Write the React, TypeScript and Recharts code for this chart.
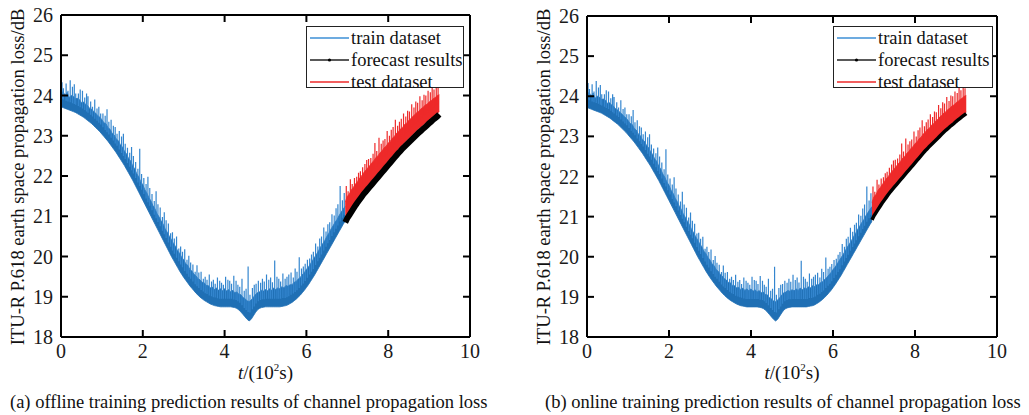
import React from 'react';
import { ComposedChart, Area, Line, XAxis, YAxis } from 'recharts';

const STEP = 0.05;
const TRAIN_START = 0;
const TEST_START = 6.95;
const X_TICKS = [0, 2, 4, 6, 8, 10];
const Y_TICKS = [18, 19, 20, 21, 22, 23, 24, 25, 26];

// lower envelope of the train dataset band (t = 0 .. 6.95)
const TRAIN_LOW = [
  23.72, 23.70, 23.68, 23.66, 23.64, 23.62, 23.60, 23.58, 23.55, 23.52,
  23.49, 23.46, 23.42, 23.38, 23.34, 23.30, 23.25, 23.20, 23.15, 23.10,
  23.04, 22.98, 22.92, 22.86, 22.79, 22.72, 22.65, 22.58, 22.50, 22.42,
  22.34, 22.26, 22.17, 22.08, 21.99, 21.90, 21.80, 21.70, 21.60, 21.50,
  21.40, 21.30, 21.20, 21.10, 21.00, 20.90, 20.80, 20.70, 20.60, 20.50,
  20.40, 20.30, 20.20, 20.10, 20.00, 19.91, 19.82, 19.73, 19.64, 19.56,
  19.48, 19.41, 19.34, 19.27, 19.21, 19.15, 19.09, 19.04, 18.99, 18.95,
  18.91, 18.88, 18.85, 18.82, 18.80, 18.78, 18.77, 18.76, 18.75, 18.75,
  18.75, 18.75, 18.75, 18.75, 18.74, 18.73, 18.71, 18.67, 18.62, 18.56,
  18.50, 18.44, 18.40, 18.44, 18.52, 18.60, 18.67, 18.71, 18.73, 18.74,
  18.75, 18.75, 18.75, 18.75, 18.75, 18.75, 18.75, 18.75, 18.76, 18.77,
  18.78, 18.80, 18.83, 18.86, 18.90, 18.94, 18.99, 19.04, 19.10, 19.16,
  19.23, 19.30, 19.38, 19.46, 19.54, 19.63, 19.72, 19.81, 19.90, 19.99,
  20.08, 20.17, 20.26, 20.35, 20.44, 20.53, 20.62, 20.71, 20.80, 20.88,
];
// upper dense edge of the train dataset band
const TRAIN_HIGH = [
  24.02, 24.10, 24.00, 24.08, 23.95, 24.00, 23.98, 23.92, 23.93, 23.90,
  23.82, 23.84, 23.78, 23.75, 23.68, 23.66, 23.60, 23.56, 23.50, 23.46,
  23.40, 23.32, 23.30, 23.20, 23.16, 23.06, 23.02, 22.92, 22.88, 22.78,
  22.72, 22.62, 22.55, 22.44, 22.38, 22.26, 22.18, 22.06, 21.98, 21.86,
  21.78, 21.66, 21.58, 21.46, 21.38, 21.26, 21.18, 21.06, 20.98, 20.88,
  20.80, 20.68, 20.60, 20.50, 20.42, 20.32, 20.25, 20.14, 20.08, 19.98,
  19.92, 19.82, 19.78, 19.68, 19.64, 19.56, 19.52, 19.45, 19.42, 19.36,
  19.35, 19.28, 19.28, 19.22, 19.24, 19.18, 19.22, 19.16, 19.20, 19.15,
  19.20, 19.14, 19.18, 19.12, 19.16, 19.10, 19.12, 19.06, 19.05, 18.98,
  18.95, 18.90, 18.88, 18.92, 18.98, 19.05, 19.10, 19.12, 19.16, 19.14,
  19.18, 19.15, 19.20, 19.16, 19.22, 19.18, 19.22, 19.20, 19.25, 19.22,
  19.28, 19.26, 19.30, 19.30, 19.36, 19.38, 19.44, 19.48, 19.55, 19.60,
  19.68, 19.74, 19.82, 19.90, 19.98, 20.06, 20.15, 20.24, 20.32, 20.40,
  20.50, 20.58, 20.68, 20.76, 20.85, 20.92, 21.02, 21.10, 21.18, 21.25,
];
// noise spikes of the train dataset (time, foot, tip)
const TRAIN_SPIKE_T = [
  0.025, 0.125, 0.225, 0.325, 0.425, 0.525, 0.625, 0.725, 0.825, 0.925,
  1.025, 1.125, 1.225, 1.325, 1.425, 1.525, 1.625, 1.725, 1.825, 1.925,
  2.025, 2.125, 2.225, 2.325, 2.425, 2.525, 2.625, 2.725, 2.825, 2.925,
  3.025, 3.125, 3.225, 3.325, 3.425, 3.525, 3.625, 3.725, 3.825, 3.925,
  4.025, 4.125, 4.225, 4.325, 4.425, 4.525, 4.575, 4.725, 4.825, 4.925,
  5.025, 5.125, 5.225, 5.325, 5.425, 5.525, 5.625, 5.725, 5.825, 5.925,
  6.025, 6.125, 6.225, 6.325, 6.425, 6.525, 6.625, 6.725, 6.825, 6.925,
  0.06, 0.17, 0.28, 0.36, 0.47, 0.58, 0.66, 0.77, 0.88, 0.97,
  1.08, 1.17, 1.28, 1.37, 1.48, 1.57, 1.68, 1.77, 1.88, 1.97,
  2.08, 2.17, 2.28, 2.37, 2.48, 2.57, 2.68, 2.77, 2.88, 2.97,
  3.08, 3.17, 3.28, 3.37, 3.48, 3.57, 3.68, 3.77, 3.88, 3.97,
  4.08, 4.17, 4.28, 4.37, 4.48, 4.62, 4.68, 4.77, 4.88, 4.97,
  5.08, 5.17, 5.28, 5.37, 5.48, 5.57, 5.68, 5.77, 5.88, 5.97,
  6.08, 6.17, 6.28, 6.37, 6.48, 6.57, 6.68, 6.77, 6.88,
];
const TRAIN_SPIKE_BASE = [
  23.91, 23.87, 23.83, 23.79, 23.74, 23.68, 23.60, 23.52, 23.42, 23.32,
  23.21, 23.09, 22.95, 22.81, 22.66, 22.50, 22.32, 22.14, 21.95, 21.75,
  21.55, 21.35, 21.15, 20.95, 20.75, 20.55, 20.35, 20.15, 19.97, 19.80,
  19.64, 19.50, 19.38, 19.26, 19.17, 19.09, 19.03, 18.99, 18.96, 18.95,
  18.95, 18.95, 18.93, 18.89, 18.79, 18.67, 18.62, 18.76, 18.89, 18.94,
  18.95, 18.95, 18.95, 18.95, 18.97, 18.99, 19.05, 19.12, 19.22, 19.33,
  19.47, 19.62, 19.79, 19.97, 20.15, 20.33, 20.51, 20.69, 20.87, 21.04,
  23.90, 23.85, 23.81, 23.77, 23.71, 23.64, 23.57, 23.48, 23.37, 23.28,
  23.14, 23.03, 22.88, 22.75, 22.57, 22.42, 22.23, 22.06, 21.84, 21.66,
  21.44, 21.26, 21.04, 20.86, 20.64, 20.46, 20.24, 20.07, 19.88, 19.73,
  19.57, 19.45, 19.31, 19.22, 19.13, 19.07, 19.01, 18.98, 18.95, 18.95,
  18.95, 18.95, 18.92, 18.85, 18.72, 18.61, 18.69, 18.83, 18.92, 18.94,
  18.95, 18.95, 18.95, 18.95, 18.97, 19.01, 19.08, 19.16, 19.28, 19.39,
  19.55, 19.69, 19.88, 20.05, 20.24, 20.41, 20.60, 20.77, 20.96,
];
const TRAIN_SPIKE_TOP = [
  24.33, 24.30, 24.38, 24.28, 24.05, 24.12, 24.05, 23.85, 23.90, 23.72,
  23.55, 23.66, 23.40, 23.22, 23.12, 23.05, 22.70, 22.72, 22.35, 22.68,
  21.95, 21.98, 21.55, 21.62, 21.22, 21.10, 20.82, 20.60, 20.50, 20.25,
  20.18, 20.02, 19.80, 19.78, 19.62, 19.50, 19.55, 19.42, 19.48, 19.35,
  19.50, 19.40, 19.52, 19.30, 19.45, 19.20, 19.75, 19.30, 19.40, 19.45,
  19.55, 19.48, 19.90, 19.45, 19.58, 19.50, 19.60, 19.70, 19.98, 19.75,
  19.92, 20.05, 20.32, 20.45, 20.72, 20.80, 21.05, 21.20, 21.75, 21.58,
  24.18, 24.12, 24.22, 24.05, 24.15, 23.95, 23.98, 23.72, 23.68, 23.55,
  23.50, 23.35, 23.25, 23.05, 22.98, 22.80, 22.58, 22.50, 22.18, 22.05,
  21.80, 21.70, 21.38, 21.30, 20.98, 20.90, 20.58, 20.45, 20.20, 20.12,
  19.92, 19.85, 19.62, 19.60, 19.45, 19.42, 19.38, 19.32, 19.40, 19.30,
  19.42, 19.32, 19.40, 19.25, 19.15, 19.05, 19.22, 19.32, 19.35, 19.38,
  19.42, 19.36, 19.50, 19.38, 19.45, 19.55, 19.48, 19.62, 19.70, 19.82,
  19.95, 20.12, 20.25, 20.50, 20.62, 20.85, 21.02, 21.30, 21.40,
];
// test dataset band (t = 6.95 .. 9.25)
const TEST_LOW = [
  20.95, 21.05, 21.13, 21.21, 21.29, 21.37, 21.44, 21.51, 21.58, 21.65,
  21.71, 21.77, 21.83, 21.89, 21.95, 22.01, 22.07, 22.13, 22.19, 22.25,
  22.31, 22.37, 22.43, 22.49, 22.55, 22.61, 22.67, 22.72, 22.78, 22.83,
  22.88, 22.93, 22.98, 23.03, 23.08, 23.13, 23.18, 23.22, 23.27, 23.31,
  23.35, 23.40, 23.44, 23.48, 23.52, 23.56, 23.60,
];
const TEST_HIGH = [
  21.35, 21.50, 21.55, 21.66, 21.72, 21.80, 21.86, 21.95, 22.00, 22.08,
  22.14, 22.20, 22.26, 22.33, 22.38, 22.46, 22.50, 22.58, 22.62, 22.70,
  22.74, 22.82, 22.86, 22.94, 22.98, 23.06, 23.10, 23.17, 23.20, 23.28,
  23.31, 23.38, 23.42, 23.48, 23.52, 23.58, 23.61, 23.67, 23.70, 23.76,
  23.78, 23.84, 23.87, 23.92, 23.95, 24.00, 24.02,
];
// noise spikes of the test dataset (time, foot, tip)
const TEST_SPIKE_T = [
  6.975, 7.075, 7.175, 7.275, 7.375, 7.475, 7.575, 7.675, 7.775, 7.875,
  7.975, 8.075, 8.175, 8.275, 8.375, 8.475, 8.575, 8.675, 8.775, 8.875,
  8.975, 9.075, 9.175,
  7.02, 7.12, 7.23, 7.32, 7.43, 7.52, 7.63, 7.72, 7.83, 7.92,
  8.03, 8.12, 8.23, 8.32, 8.43, 8.52, 8.63, 8.72, 8.83, 8.92,
  9.03, 9.12, 9.22,
];
const TEST_SPIKE_BASE = [
  21.20, 21.37, 21.53, 21.68, 21.82, 21.94, 22.06, 22.18, 22.30, 22.42,
  22.54, 22.66, 22.78, 22.90, 23.00, 23.10, 23.20, 23.30, 23.40, 23.49,
  23.57, 23.66, 23.74,
  21.28, 21.44, 21.61, 21.74, 21.89, 21.99, 22.13, 22.23, 22.37, 22.47,
  22.61, 22.71, 22.85, 22.94, 23.06, 23.15, 23.26, 23.35, 23.45, 23.53,
  23.62, 23.70, 23.78,
];
const TEST_SPIKE_TOP = [
  21.75, 21.92, 21.95, 22.08, 22.22, 22.40, 22.45, 22.82, 22.95, 22.88,
  23.12, 23.15, 23.40, 23.35, 23.55, 23.62, 23.78, 23.85, 23.98, 24.02,
  24.12, 24.25, 24.28,
  21.62, 21.80, 21.98, 22.12, 22.30, 22.42, 22.55, 22.62, 22.80, 22.92,
  23.00, 23.22, 23.25, 23.42, 23.48, 23.60, 23.70, 23.82, 23.88, 24.00,
  24.08, 24.15, 24.20,
];
// forecast results (t = 6.95 .. 9.25)
const FORECAST_OFFLINE = [
  20.85, 20.95, 21.03, 21.11, 21.19, 21.27, 21.34, 21.41, 21.48, 21.55,
  21.61, 21.67, 21.73, 21.79, 21.85, 21.91, 21.97, 22.03, 22.09, 22.15,
  22.21, 22.27, 22.33, 22.39, 22.45, 22.51, 22.57, 22.62, 22.68, 22.73,
  22.78, 22.83, 22.88, 22.93, 22.98, 23.03, 23.08, 23.12, 23.17, 23.21,
  23.26, 23.31, 23.35, 23.40, 23.44, 23.48, 23.53,
];
const FORECAST_ONLINE = [
  20.92, 21.02, 21.10, 21.18, 21.26, 21.34, 21.41, 21.48, 21.55, 21.62,
  21.68, 21.74, 21.80, 21.86, 21.92, 21.98, 22.04, 22.10, 22.16, 22.22,
  22.28, 22.34, 22.40, 22.46, 22.52, 22.58, 22.64, 22.69, 22.75, 22.80,
  22.85, 22.90, 22.95, 23.00, 23.05, 23.10, 23.15, 23.19, 23.24, 23.28,
  23.32, 23.37, 23.41, 23.45, 23.49, 23.53, 23.57,
];

const LEGEND_ITEMS = ['train dataset', 'forecast results', 'test dataset'];
const CAPTIONS = [
  '(a) offline training prediction results of channel propagation loss',
  '(b) online training prediction results of channel propagation loss',
];
const Y_LABEL = 'ITU-R P.618 earth space propagation loss/dB';

const BLUE = '#1f6fb4';
const BLUE_SPIKE = '#3486cf';
const RED = '#ee2a2a';
const BLACK = '#000000';
const FONT = '"Liberation Serif", "Times New Roman", serif';

type Row = { t: number; train?: number[]; test?: number[]; fc?: number };
type SpikeRow = { t: number; v: number | null };

function buildRows(forecast: number[]): Row[] {
  const map = new Map<string, Row>();
  const get = (t: number) => {
    const k = t.toFixed(2);
    let r = map.get(k);
    if (!r) {
      r = { t: +k };
      map.set(k, r);
    }
    return r;
  };
  TRAIN_LOW.forEach((lo, i) => {
    get(TRAIN_START + i * STEP).train = [lo, TRAIN_HIGH[i]];
  });
  TEST_LOW.forEach((lo, i) => {
    const r = get(TEST_START + i * STEP);
    r.test = [lo, TEST_HIGH[i]];
    r.fc = forecast[i];
  });
  return Array.from(map.values()).sort((a, b) => a.t - b.t);
}

function buildSpikes(ts: number[], base: number[], top: number[]): SpikeRow[] {
  const out: SpikeRow[] = [];
  ts.forEach((t, i) => {
    out.push({ t, v: base[i] });
    out.push({ t, v: top[i] });
    out.push({ t, v: null });
  });
  return out;
}

const TRAIN_SPIKES = buildSpikes(TRAIN_SPIKE_T, TRAIN_SPIKE_BASE, TRAIN_SPIKE_TOP);
const TEST_SPIKES = buildSpikes(TEST_SPIKE_T, TEST_SPIKE_BASE, TEST_SPIKE_TOP);

const H = 415;
const PLOT_BOTTOM = 337;

type PanelProps = {
  left: number; width: number; plotLeft: number; plotRight: number; plotTop: number;
  forecast: number[]; forecastWidth: number; forecastUnder: boolean;
  legendLeft: number; legendWidth: number; yLabelX: number; caption: string; captionLeft: number;
};

function Panel(p: PanelProps) {
  const rows = buildRows(p.forecast);
  const axisLine = { stroke: '#000', strokeWidth: 2 };
  const tickLine = { stroke: '#000', strokeWidth: 2 };
  const tickStyle = { fill: '#1a1a1a', fontSize: 20, fontFamily: FONT };
  const yAxisW = 55;
  const xAxisH = 40;
  const lp = p.plotLeft - p.left;
  const rp = p.plotRight - p.left;
  const fcLine = (
    <Line key="fc" xAxisId="b" yAxisId="l" dataKey="fc" stroke={BLACK} strokeWidth={p.forecastWidth}
      dot={false} activeDot={false} isAnimationActive={false} />
  );
  const testArea = (
    <Area key="test" xAxisId="b" yAxisId="l" dataKey={(d: Row) => d.test} type="linear" stroke={RED}
      strokeWidth={0.8} fill={RED} fillOpacity={1} activeDot={false} isAnimationActive={false} />
  );
  const testSpikes = (
    <Line key="tsp" xAxisId="b" yAxisId="l" data={TEST_SPIKES} dataKey="v" stroke={RED} strokeWidth={1.2}
      dot={false} activeDot={false} connectNulls={false} isAnimationActive={false} />
  );
  const cx = (p.plotLeft + p.plotRight) / 2;
  return (
    <>
      <div style={{ position: 'absolute', left: p.left, top: 0 }}>
        <ComposedChart
          width={p.width}
          height={H}
          data={rows}
          margin={{ top: p.plotTop - 1, right: p.width - rp - 1, bottom: H - PLOT_BOTTOM - xAxisH, left: lp - yAxisW }}
        >
          <XAxis xAxisId="b" dataKey="t" type="number" domain={[0, 10]} ticks={X_TICKS} orientation="bottom"
            height={xAxisH} axisLine={axisLine} tickLine={tickLine} tickSize={-7} tickMargin={14} tick={tickStyle}
            interval={0} allowDataOverflow />
          <XAxis xAxisId="t" dataKey="t" type="number" domain={[0, 10]} ticks={X_TICKS} orientation="top"
            height={1} axisLine={axisLine} tickLine={tickLine} tickSize={-7} tickFormatter={() => ''}
            interval={0} allowDataOverflow />
          <YAxis yAxisId="l" type="number" domain={[18, 26]} ticks={Y_TICKS} width={yAxisW} axisLine={axisLine}
            tickLine={tickLine} tickSize={-7} tickMargin={15} tick={tickStyle} interval={0} allowDataOverflow />
          <YAxis yAxisId="r" orientation="right" type="number" domain={[18, 26]} ticks={Y_TICKS} width={1}
            axisLine={axisLine} tickLine={tickLine} tickSize={-7} tickFormatter={() => ''} interval={0}
            allowDataOverflow />
          <Area xAxisId="b" yAxisId="l" dataKey={(d: Row) => d.train} type="linear" stroke={BLUE}
            strokeWidth={0.8} fill={BLUE} fillOpacity={1} activeDot={false} isAnimationActive={false} />
          <Line xAxisId="b" yAxisId="l" data={TRAIN_SPIKES} dataKey="v" stroke={BLUE_SPIKE} strokeWidth={1.2}
            dot={false} activeDot={false} connectNulls={false} isAnimationActive={false} />
          {p.forecastUnder ? [fcLine, testArea, testSpikes] : [testArea, testSpikes, fcLine]}
        </ComposedChart>
      </div>
      <div
        style={{
          position: 'absolute', left: p.legendLeft, top: 26, width: p.legendWidth, height: 62,
          border: '1.5px solid #222', boxSizing: 'border-box', background: '#fff',
          fontFamily: FONT, fontSize: 18.5, color: '#111',
        }}
      >
        {LEGEND_ITEMS.map((name, i) => {
          const color = i === 0 ? '#3c8fd6' : i === 1 ? '#222' : RED;
          return (
            <div key={name} style={{ position: 'absolute', left: 3, top: i * 22, height: 22, display: 'flex',
              alignItems: 'center', whiteSpace: 'nowrap' }}>
              <svg width={39} height={6} style={{ marginRight: 2 }}>
                <line x1={0} y1={3} x2={39} y2={3} stroke={color} strokeWidth={1.5} />
                {i === 1 ? <circle cx={19.5} cy={3} r={1.6} fill="#000" /> : null}
              </svg>
              <span>{name}</span>
            </div>
          );
        })}
      </div>
      <div style={{ position: 'absolute', left: p.yLabelX, top: 177, transform: 'translate(-50%, -50%) rotate(-90deg)',
        whiteSpace: 'nowrap', fontFamily: FONT, fontSize: 18.6, color: '#111' }}>
        {Y_LABEL}
      </div>
      <div style={{ position: 'absolute', left: cx, top: 373, transform: 'translate(-50%, -50%)',
        whiteSpace: 'nowrap', fontFamily: FONT, fontSize: 19, color: '#111' }}>
        <i>t</i>/(10<sup style={{ fontSize: 11, verticalAlign: 'top', position: 'relative', top: -1 }}>2</sup>s)
      </div>
      <div style={{ position: 'absolute', left: p.captionLeft, top: 402, transform: 'translateY(-50%)',
        whiteSpace: 'nowrap', fontFamily: FONT, fontSize: 18.5, color: '#111' }}>
        {p.caption}
      </div>
    </>
  );
}

export default function App() {
  return (
    <div style={{ position: 'absolute', left: 0, top: 0, width: 1029, height: 415, background: '#fff', overflow: 'hidden' }}>
      <Panel left={0} width={515} plotLeft={61} plotRight={470} plotTop={15} forecast={FORECAST_OFFLINE}
        forecastWidth={6} forecastUnder={false} legendLeft={306} legendWidth={158} yLabelX={18}
        caption={CAPTIONS[0]} captionLeft={10} />
      <Panel left={515} width={514} plotLeft={587} plotRight={997} plotTop={16} forecast={FORECAST_ONLINE}
        forecastWidth={3.5} forecastUnder={true} legendLeft={833} legendWidth={160} yLabelX={544}
        caption={CAPTIONS[1]} captionLeft={545} />
    </div>
  );
}
